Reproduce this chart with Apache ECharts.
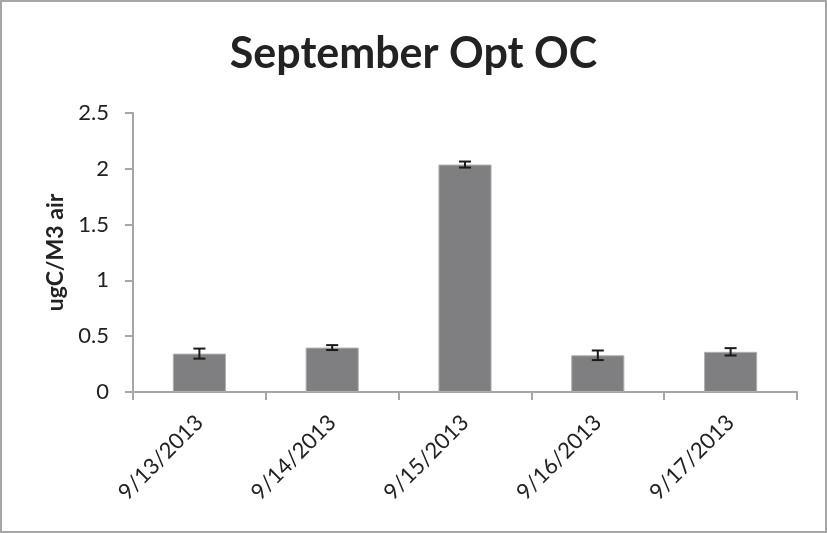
<!DOCTYPE html>
<html>
<head>
<meta charset="utf-8">
<script src="https://cdn.jsdelivr.net/npm/echarts@6/dist/echarts.min.js"></script>
<style>
  html, body { margin: 0; padding: 0; background: #fff; }
  #main { width: 827px; height: 533px; box-sizing: border-box; border: 2px solid #a6a6a6; }
</style>
</head>
<body>
<div id="main"></div>
<script>
  // values
  var dates = ["9/13/2013", "9/14/2013", "9/15/2013", "9/16/2013", "9/17/2013"];
  var ocValues = [0.344, 0.398, 2.038, 0.329, 0.360];
  var ocErrors = [0.045, 0.022, 0.027, 0.043, 0.033];

  var chartDom = document.getElementById("main");
  var myChart = echarts.init(chartDom);

  var errorData = ocValues.map(function (v, i) {
    return [i, v - ocErrors[i], v + ocErrors[i]];
  });

  var axisColor = "#a6a6a6";
  var textColor = "#222222";
  var font = "Lato, 'Open Sans', sans-serif";

  var option = {
    animation: false,
    title: {
      text: "September Opt OC",
      left: "center",
      top: 26,
      textStyle: { fontFamily: font, fontSize: 43, fontWeight: "bold", color: textColor },
    },
    grid: { left: 131, right: 28, top: 111, bottom: 139 },
    xAxis: {
      type: "category",
      data: dates,
      axisLine: { lineStyle: { color: axisColor, width: 2 } },
      axisTick: { show: true, length: 8, lineStyle: { color: axisColor, width: 2 } },
      axisLabel: {
        rotate: 45,
        fontFamily: font,
        fontSize: 22,
        color: textColor,
        margin: 27,
      },
    },
    yAxis: {
      type: "value",
      min: 0,
      max: 2.5,
      interval: 0.5,
      name: "ugC/M3 air",
      nameLocation: "middle",
      nameGap: 56,
      nameTextStyle: { fontFamily: font, fontSize: 23, fontWeight: "bold", color: textColor },
      splitLine: { show: false },
      axisLine: { show: true, lineStyle: { color: axisColor, width: 2 } },
      axisTick: { show: true, length: 8, lineStyle: { color: axisColor, width: 2 } },
      axisLabel: { fontFamily: font, fontSize: 22, color: textColor, margin: 24 },
    },
    series: [
      {
        type: "bar",
        data: ocValues,
        barWidth: "40%",
        itemStyle: { color: "#7f7f82", borderColor: "#b0b0b2", borderWidth: 1 },
      },
      {
        type: "custom",
        data: errorData,
        z: 10,
        renderItem: function (params, api) {
          var lo = api.coord([api.value(0), api.value(1)]);
          var hi = api.coord([api.value(0), api.value(2)]);
          var cap = 6;
          var style = { stroke: "#1a1a1a", lineWidth: 2 };
          return {
            type: "group",
            children: [
              { type: "line", shape: { x1: hi[0], y1: hi[1], x2: lo[0], y2: lo[1] }, style: style },
              { type: "line", shape: { x1: hi[0] - cap, y1: hi[1], x2: hi[0] + cap, y2: hi[1] }, style: style },
              { type: "line", shape: { x1: lo[0] - cap, y1: lo[1], x2: lo[0] + cap, y2: lo[1] }, style: style },
            ],
          };
        },
      },
    ],
  };
  myChart.setOption(option);
</script>
</body>
</html>
